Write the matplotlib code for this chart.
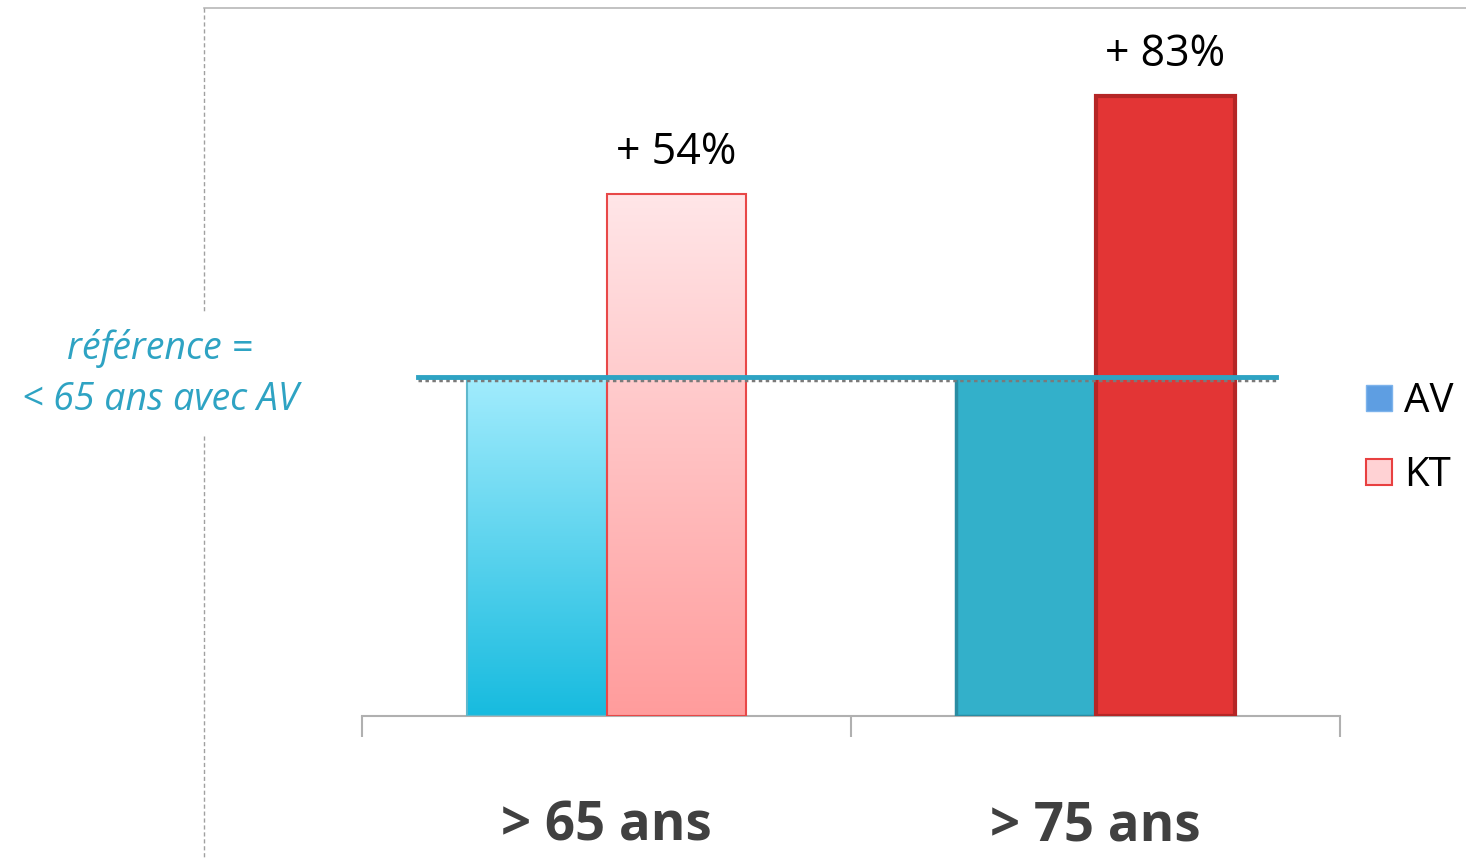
import numpy as np
import matplotlib.pyplot as plt
from matplotlib.patches import Rectangle
from matplotlib.lines import Line2D

# age groups and relative risk vs. reference (< 65 ans avec AV = 1)
groups = ["> 65 ans", "> 75 ans"]
av_values = [1.00, 1.00]
kt_values = [1.54, 1.83]
kt_labels = ["+ 54%", "+ 83%"]
series = ["AV", "KT"]
reference = 1.0

teal = "#2EA3C3"

fig = plt.figure(figsize=(14.66, 8.58), dpi=100)
ax = fig.add_axes([362 / 1466, (858 - 716) / 858, 978 / 1466, 708 / 858])

x = np.arange(len(groups))
w = 0.286


def gradient_bar(ax, x0, h, top_col, bot_col, edge):
    bar = ax.bar(x0, h, w, align="edge", color="none", edgecolor=edge, linewidth=1.5, zorder=3)[0]
    c1 = np.array(plt.matplotlib.colors.to_rgb(top_col))
    c2 = np.array(plt.matplotlib.colors.to_rgb(bot_col))
    t = np.linspace(0, 1, 256)[:, None]
    img = (c1 * (1 - t) + c2 * t)[:, None, :]
    im = ax.imshow(img, extent=[x0, x0 + w, 0, h], aspect="auto", origin="upper", zorder=2)
    im.set_clip_path(bar)
    return bar


# > 65 ans : light gradient bars
gradient_bar(ax, x[0] - w, av_values[0], "#A2ECFD", "#17BBDF", "#5FB8CC")
gradient_bar(ax, x[0], kt_values[0], "#FFE6E8", "#FF9C9C", "#E84848")

# > 75 ans : solid bars
ax.bar(x[1] - w, av_values[1], w, align="edge", color="#33B0CA", edgecolor="#2A8CA2", linewidth=2.5, zorder=3)
ax.bar(x[1], kt_values[1], w, align="edge", color="#E33535", edgecolor="#B52626", linewidth=3, zorder=3)

for i in range(len(groups)):
    ax.text(x[i] + w / 2, kt_values[i] + 0.121, kt_labels[i], ha="center", va="center",
            fontsize=31, family="Open Sans", color="black")
    ax.text(x[i], -0.156, groups[i], ha="center", va="center", transform=ax.get_xaxis_transform(),
            fontsize=38, family="Open Sans", fontweight="bold", color="#404040")

# reference line
ax.plot([-0.385, 1.369], [reference - 0.009, reference - 0.009], color="#7A7A7A", lw=2.5,
        linestyle=(0, (1, 1)), zorder=4, clip_on=False)
ax.plot([-0.385, 1.369], [reference, reference], color=teal, lw=3.5, zorder=5, clip_on=False)

ax.set_xlim(-0.5, 1.5)
ax.set_ylim(0, 708 / 339)
ax.set_xticks([-0.5, 0.5, 1.5])
ax.set_xticklabels([])
ax.set_yticks([])
ax.tick_params(axis="x", length=15, width=1.5, color="#B0B0B0", direction="out")
for s in ["top", "left", "right"]:
    ax.spines[s].set_visible(False)
ax.spines["bottom"].set_color("#B0B0B0")
ax.spines["bottom"].set_linewidth(1.5)
ax.patch.set_alpha(0)

# plot area border (top solid, left dashed with a gap behind the note)
fig.add_artist(Line2D([204 / 1466, 1], [1 - 8 / 858, 1 - 8 / 858], color="#B8B8B8", lw=1.2))
fig.add_artist(Line2D([204 / 1466, 204 / 1466], [1 - 8 / 858, 1 - 312 / 858], color="#A0A0A0",
                      lw=1, linestyle=(0, (3, 2))))
fig.add_artist(Line2D([204 / 1466, 204 / 1466], [1 - 436 / 858, 0], color="#A0A0A0",
                      lw=1, linestyle=(0, (3, 2))))

fig.text(160 / 1466, 1 - 374 / 858, "référence =\n< 65 ans avec AV", ha="center", va="center",
         fontsize=27, style="italic", family="Open Sans", color=teal, linespacing=1.45)

# legend
fig.add_artist(Rectangle((1366 / 1466, 1 - 411 / 858), 26 / 1466, 26 / 858, facecolor="#5E9EE2",
                         edgecolor="#7DB3EC", lw=1, transform=fig.transFigure))
fig.add_artist(Rectangle((1366 / 1466, 1 - 485 / 858), 26 / 1466, 26 / 858, facecolor="#FFD2D4",
                         edgecolor="#E84040", lw=1.5, transform=fig.transFigure))
fig.text(1404 / 1466, 1 - 402 / 858, series[0], ha="left", va="center", fontsize=29, family="Open Sans")
fig.text(1404 / 1466, 1 - 476 / 858, series[1], ha="left", va="center", fontsize=29, family="Open Sans")

fig.savefig("out.png", dpi=100, facecolor="white")
